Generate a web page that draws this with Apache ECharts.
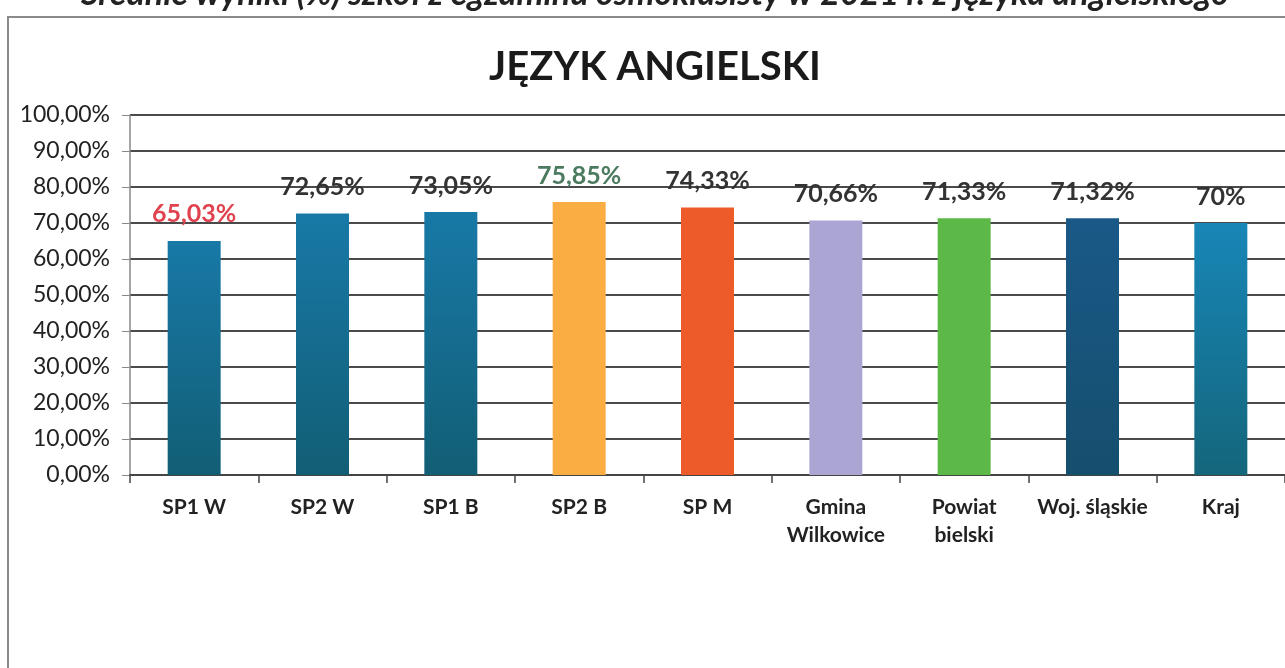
<!DOCTYPE html>
<html>
<head>
<meta charset="utf-8">
<script src="https://cdn.jsdelivr.net/npm/echarts@6/dist/echarts.min.js"></script>
<style>html,body{margin:0;padding:0;background:#fff}#c{width:1285px;height:668px}</style>
</head>
<body>
<div id="c"></div>
<script>
const categories = ['SP1 W', 'SP2 W', 'SP1 B', 'SP2 B', 'SP M', 'Gmina\nWilkowice', 'Powiat\nbielski', 'Woj. śląskie', 'Kraj'];
const values = [65.03, 72.65, 73.05, 75.85, 74.33, 70.66, 71.33, 71.32, 70];
const valueLabels = ['65,03%', '72,65%', '73,05%', '75,85%', '74,33%', '70,66%', '71,33%', '71,32%', '70%'];
const yTicks = [0, 10, 20, 30, 40, 50, 60, 70, 80, 90, 100];

const barColors = [
  ['#1879a7', '#125e75'],
  ['#1879a7', '#125e75'],
  ['#1879a7', '#125e75'],
  ['#f9ad42', '#f9ad42'],
  ['#ee5b2b', '#ee5b2b'],
  ['#aaa5d3', '#aaa5d3'],
  ['#5cb948', '#5cb948'],
  ['#1a5887', '#154f6e'],
  ['#1886b7', '#14667b']
];
const labelColors = ['#e0434f', '#333', '#333', '#4b7a5f', '#333', '#333', '#333', '#333', '#333'];

const chart = echarts.init(document.getElementById('c'));
chart.setOption({
  animation: false,
  backgroundColor: '#fff',
  graphic: [
    { type: 'rect', shape: { x: 8, y: 17, width: 1300, height: 700 }, style: { fill: 'none', stroke: '#8a8a8a', lineWidth: 2 }, z: 0 },
    { type: 'text', x: 655, y: 11, style: { text: 'Średnie wyniki (%) szkół z egzaminu ósmoklasisty w 2021 r. z języka angielskiego', font: 'italic bold 34px Lato', fill: '#222', textAlign: 'center', textVerticalAlign: 'bottom' } },
    { type: 'text', x: 655, y: 67, style: { text: 'JĘZYK ANGIELSKI', font: 'bold 40px Lato', fill: '#1a1a1a', textAlign: 'center', textVerticalAlign: 'middle' } }
  ],
  grid: { left: 130, right: -10, top: 115, bottom: 193 },
  xAxis: {
    type: 'category',
    data: categories,
    axisLine: { lineStyle: { color: '#444', width: 2 } },
    axisTick: { show: true, length: 8, lineStyle: { color: '#444', width: 1.5 } },
    axisLabel: { color: '#222', fontFamily: 'Lato', fontWeight: 'bold', fontSize: 21, margin: 18, lineHeight: 28, interval: 0 }
  },
  yAxis: {
    type: 'value',
    min: 0, max: 100, interval: 10,
    axisLine: { show: true, lineStyle: { color: '#888', width: 1.5 } },
    axisTick: { show: true, length: 8, lineStyle: { color: '#888' } },
    axisLabel: { color: '#222', fontFamily: 'Lato', fontSize: 23, margin: 20,
      formatter: v => yTicks.includes(v) ? v.toFixed(2).replace('.', ',') + '%' : '' },
    splitLine: { lineStyle: { color: '#4a4a4a', width: 2 } }
  },
  series: [{
    type: 'bar',
    barWidth: 53,
    data: values.map((v, i) => ({
      value: v,
      itemStyle: { color: new echarts.graphic.LinearGradient(0, 0, 0, 1, [
        { offset: 0, color: barColors[i][0] }, { offset: 1, color: barColors[i][1] }]) },
      label: { color: labelColors[i] }
    })),
    label: {
      show: true, position: 'top', distance: 14,
      fontFamily: 'Lato', fontWeight: 'bold', fontSize: 25,
      formatter: p => valueLabels[p.dataIndex]
    }
  }]
});
</script>
</body>
</html>
